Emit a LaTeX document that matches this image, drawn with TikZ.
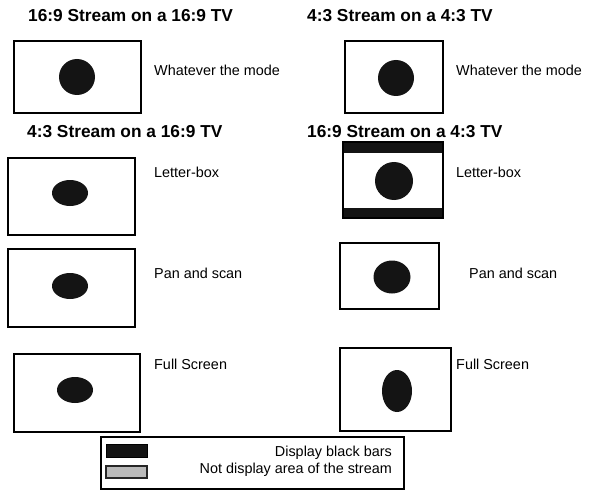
\documentclass[tikz,border=0pt]{standalone}
\usepackage{fontspec}
\setmainfont{Liberation Sans}
\begin{document}
\begin{tikzpicture}[x=1pt,y=-1pt,
  screen/.style={draw,line width=1.7pt},
  spot/.style={fill=black!92},
  bar/.style={fill=black!92},
  title/.style={anchor=base west,inner sep=0pt,font=\fontsize{17.3}{20}\selectfont\bfseries},
  mode/.style={anchor=base west,inner sep=0pt,font=\fontsize{14.4}{17}\selectfont},
  legendtext/.style={anchor=base east,inner sep=0pt,font=\fontsize{14.4}{17}\selectfont}]
\useasboundingbox (0,0) rectangle (590,495);

% 16:9 TV column
\node[title] (t169on169) at (28,21.5) {16:9 Stream on a 16:9 TV};
\draw[screen] (14,41) rectangle (141,113);
\fill[spot] (77,77) circle[radius=18];
\node[mode] (whatever1) at (154,76) {Whatever the mode};

\node[title] (t43on169) at (27,138) {4:3 Stream on a 16:9 TV};
\draw[screen] (8,158) rectangle (135,235);
\fill[spot] (70,193) ellipse[x radius=18,y radius=13];
\node[mode] (letterbox1) at (154,177) {Letter-box};

\draw[screen] (8,249) rectangle (135,327);
\fill[spot] (70,286) ellipse[x radius=18,y radius=13];
\node[mode] (panscan1) at (154,278) {Pan and scan};

\draw[screen] (14,354) rectangle (140,432);
\fill[spot] (75,390) ellipse[x radius=18,y radius=13];
\node[mode] (full1) at (154,369) {Full Screen};
%---------------------------------------------------------------------------------------------------
% 4:3 TV column
\node[title] (t43on43) at (307,21.5) {4:3 Stream on a 4:3 TV};
\draw[screen] (345,41) rectangle (443,113);
\fill[spot] (396,78) circle[radius=18];
\node[mode] (whatever2) at (456,76) {Whatever the mode};

\node[title] (t169on43) at (307,138) {16:9 Stream on a 4:3 TV};
\fill[bar] (343,142) rectangle (443,153);
\fill[bar] (343,208) rectangle (443,218);
\draw[screen] (343,142) rectangle (443,218);
\fill[spot] (394,181) circle[radius=19];
\node[mode] (letterbox2) at (456,177) {Letter-box};

\draw[screen] (340,243) rectangle (439,309);
\fill[spot] (392,277) ellipse[x radius=18.5,y radius=16.5];
\node[mode] (panscan2) at (469,278) {Pan and scan};

\draw[screen] (340,348) rectangle (451,431);
\fill[spot] (397,391) ellipse[x radius=15,y radius=21];
\node[mode] (full2) at (456,369) {Full Screen};
%---------------------------------------------------------------------------------------------------
% legend
\draw[line width=1.7pt] (101,437) rectangle (404,489);
\draw[bar,draw=black,line width=1pt] (106,444) rectangle (147,457);
\draw[fill=black!27,draw=black!85,line width=1.3pt] (106,466) rectangle (147,478);
\node[legendtext] (blackbars) at (392,456) {Display black bars};
\node[legendtext] (notshown) at (392,473) {Not display area of the stream};
\end{tikzpicture}
\end{document}
